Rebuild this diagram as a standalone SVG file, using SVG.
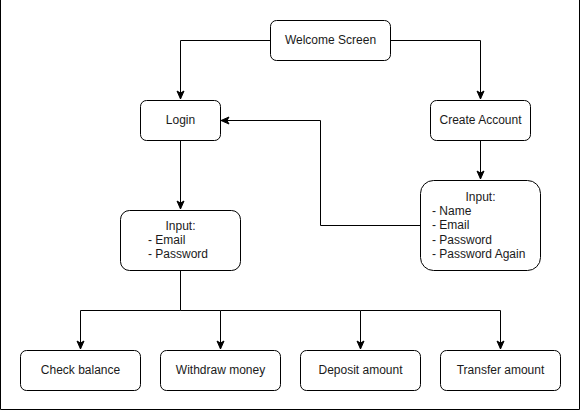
<svg xmlns="http://www.w3.org/2000/svg" width="581" height="411" viewBox="0 0 581 411">
<style>
.box{fill:#fff;stroke:#000;stroke-width:1}
.lbl{font-family:"Liberation Sans",Arial,sans-serif;font-size:12px;fill:#1a1a1a}
.c{text-anchor:middle}
.edge{fill:none;stroke:#000;stroke-width:1}
</style>
<defs>
<marker id="arr" markerUnits="userSpaceOnUse" markerWidth="10" markerHeight="10" viewBox="0 0 10 10" refX="9" refY="5" orient="auto">
<path d="M1,1.5 L9,5 L1,8.5 L3,5 Z" fill="#000" stroke="#000" stroke-width="1"/>
</marker>
</defs>
<rect x="0" y="0" width="581" height="411" fill="#fff"/>
<path d="M0.5,0 V409.5 H579.5 V0" fill="none" stroke="#000" stroke-width="1"/>
<g id="connectors">
<path class="edge" d="M270,40.5 H180.5 V99" marker-end="url(#arr)"/>
<path class="edge" d="M390,40.5 H480.5 V99" marker-end="url(#arr)"/>
<path class="edge" d="M180.5,140 V209" marker-end="url(#arr)"/>
<path class="edge" d="M480.5,140 V179" marker-end="url(#arr)"/>
<path class="edge" d="M420,225.5 H320.5 V120.5 H221" marker-end="url(#arr)"/>
<path class="edge" d="M180.5,270 V310.5 H80.5 V349" marker-end="url(#arr)"/>
<path class="edge" d="M180.5,310.5 H220.5 V349" marker-end="url(#arr)"/>
<path class="edge" d="M220.5,310.5 H360.5 V349" marker-end="url(#arr)"/>
<path class="edge" d="M360.5,310.5 H500.5 V349" marker-end="url(#arr)"/>
</g>
<g id="welcome"><rect class="box" x="270.5" y="20.5" width="120" height="40" rx="6"/><text class="lbl c" x="330.5" y="44">Welcome Screen</text></g>
<g id="login"><rect class="box" x="140.5" y="100.5" width="80" height="40" rx="6"/><text class="lbl c" x="180.5" y="124">Login</text></g>
<g id="create"><rect class="box" x="430.5" y="100.5" width="100" height="40" rx="6"/><text class="lbl c" x="480.5" y="124">Create Account</text></g>
<g id="loginInput"><rect class="box" x="120.5" y="210.5" width="120" height="60" rx="9"/>
<text class="lbl c" x="180.5" y="229.5">Input:</text>
<text class="lbl" x="148" y="243.5">- Email</text>
<text class="lbl" x="148" y="257.5">- Password</text></g>
<g id="createInput"><rect class="box" x="420.5" y="180.5" width="120" height="90" rx="13"/>
<text class="lbl c" x="480.5" y="200.5">Input:</text>
<text class="lbl" x="432" y="214.5">- Name</text>
<text class="lbl" x="432" y="229">- Email</text>
<text class="lbl" x="432" y="243.5">- Password</text>
<text class="lbl" x="432" y="257.5">- Password Again</text></g>
<g id="check"><rect class="box" x="20.5" y="350.5" width="120" height="40" rx="6"/><text class="lbl c" x="80.5" y="374">Check balance</text></g>
<g id="withdraw"><rect class="box" x="160.5" y="350.5" width="120" height="40" rx="6"/><text class="lbl c" x="220.5" y="374">Withdraw money</text></g>
<g id="deposit"><rect class="box" x="300.5" y="350.5" width="120" height="40" rx="6"/><text class="lbl c" x="360.5" y="374">Deposit amount</text></g>
<g id="transfer"><rect class="box" x="440.5" y="350.5" width="120" height="40" rx="6"/><text class="lbl c" x="500.5" y="374">Transfer amount</text></g>
</svg>
